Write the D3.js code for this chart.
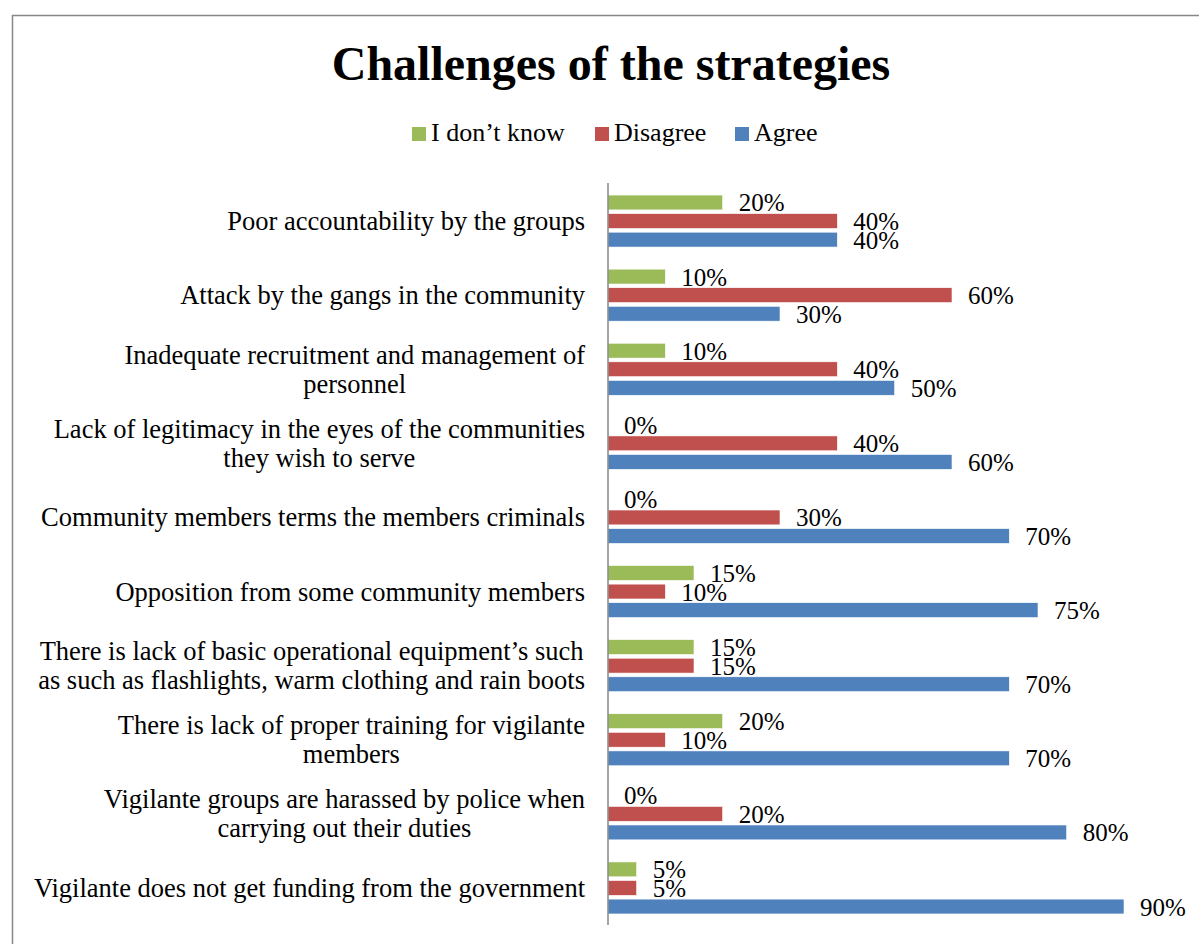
<!DOCTYPE html>
<html>
<head>
<meta charset="utf-8">
<script src="https://cdn.jsdelivr.net/npm/d3@7"></script>
<style>
  html, body { margin: 0; padding: 0; background: #fff; }
  svg { display: block; }
</style>
</head>
<body>
<svg id="chart" width="1199" height="944" font-family="'Liberation Serif', 'Times New Roman', serif"></svg>
<script>
// Survey responses per challenge (percent)
const categories = [
  ["Poor accountability by the groups"],
  ["Attack by the gangs in the community"],
  ["Inadequate recruitment and management of", "personnel"],
  ["Lack of legitimacy in the eyes of the communities", "they wish to serve"],
  ["Community members terms the members criminals"],
  ["Opposition from some community members"],
  ["There is lack of basic operational equipment\u2019s such", "as such as flashlights, warm clothing and rain boots"],
  ["There is lack of proper training for vigilante", "members"],
  ["Vigilante groups are harassed by police when", "carrying out their duties"],
  ["Vigilante does not get funding from the government"]
];
const seriesNames = ["I don\u2019t know", "Disagree", "Agree"];
const dontKnow = [20, 10, 10, 0, 0, 15, 15, 20, 0, 5];
const disagree = [40, 60, 40, 40, 30, 10, 15, 10, 20, 5];
const agree    = [40, 30, 50, 60, 70, 75, 70, 70, 80, 90];
const seriesColors = ["#9BBB59", "#C0504D", "#4F81BD"];
const seriesValues = [dontKnow, disagree, agree];

const FONT = "'Liberation Serif', 'Times New Roman', serif";
const svg = d3.select("#chart");

// frame
svg.append("rect")
  .attr("x", 12.5).attr("y", 15.5)
  .attr("width", 1300).attr("height", 1100)
  .attr("fill", "none").attr("stroke", "#878787").attr("stroke-width", 1.5);

// title
svg.append("text")
  .attr("x", 611).attr("y", 80)
  .attr("text-anchor", "middle")
  .attr("font-family", FONT)
  .attr("font-size", 48).attr("font-weight", "bold")
  .text("Challenges of the strategies");

// legend
const legendItems = [
  { name: seriesNames[0], color: seriesColors[0], x: 412 },
  { name: seriesNames[1], color: seriesColors[1], x: 595 },
  { name: seriesNames[2], color: seriesColors[2], x: 735 }
];
const lg = svg.append("g");
legendItems.forEach(d => {
  lg.append("rect").attr("x", d.x).attr("y", 127).attr("width", 14).attr("height", 14).attr("fill", d.color);
  lg.append("text").attr("x", d.x + 19).attr("y", 141)
    .attr("font-family", FONT).attr("font-size", 26).text(d.name);
});

// scales
const x = d3.scaleLinear().domain([0, 90]).range([608, 1124]);
const idx = d3.range(categories.length);
const y = d3.scaleBand().domain(idx).range([184, 925]).paddingInner(0.298).paddingOuter(0.149);
const ySub = d3.scaleBand().domain([0, 1, 2]).range([0, y.bandwidth()]).paddingInner(0.2);

// bars and value labels
const groups = svg.append("g").selectAll("g")
  .data(idx).join("g")
  .attr("transform", i => `translate(0,${y(i)})`);

groups.each(function(i) {
  const g = d3.select(this);
  seriesValues.forEach((vals, s) => {
    g.append("rect")
      .attr("x", x(0))
      .attr("y", ySub(s))
      .attr("width", x(vals[i]) - x(0))
      .attr("height", ySub.bandwidth())
      .attr("fill", seriesColors[s])
      .attr("stroke", "#fff").attr("stroke-width", 0.6);
  });
  seriesValues.forEach((vals, s) => {
    g.append("text")
      .attr("x", x(vals[i]) + 16)
      .attr("y", ySub(s) + ySub.bandwidth() / 2 + 9)
      .attr("font-family", FONT)
      .attr("font-size", 25)
      .text(vals[i] + "%");
  });
});

// vertical axis line
svg.append("line")
  .attr("x1", x(0)).attr("x2", x(0))
  .attr("y1", 183).attr("y2", 925)
  .attr("stroke", "#868686").attr("stroke-width", 1.5);

// category labels: block right-aligned, lines centred within the block
const labelRight = 585;
const lineH = 29;
const lab = svg.append("g");
categories.forEach((lines, i) => {
  const cy = y(i) + y.bandwidth() / 2;
  const t = lab.append("text")
    .attr("font-family", FONT)
    .attr("font-size", 26.5)
    .attr("text-anchor", "middle");
  const n = lines.length;
  lines.forEach((ln, k) => {
    t.append("tspan")
      .attr("y", cy + (k - (n - 1) / 2) * lineH + 9)
      .text(ln);
  });
  let maxW = 0;
  t.selectAll("tspan").each(function() { maxW = Math.max(maxW, this.getComputedTextLength()); });
  t.selectAll("tspan").attr("x", labelRight - maxW / 2);
});
</script>
</body>
</html>
